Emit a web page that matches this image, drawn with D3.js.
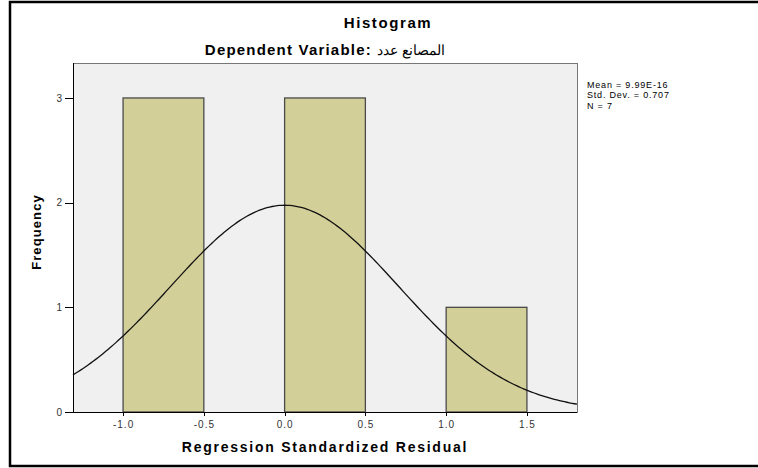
<!DOCTYPE html>
<html lang="en">
<head>
    <meta charset="UTF-8">
    <title>histogram</title>
    <script src="https://cdnjs.cloudflare.com/ajax/libs/d3/7.8.5/d3.min.js"></script>
    <style>
        body { margin: 0; background: #fff; }
        svg { display: block; font-family: "Liberation Sans", Arial, sans-serif; }
        .axis path { display: none; }
        .axis line { stroke: #000; shape-rendering: crispEdges; }
        .axis text { font-size: 10px; fill: #333; letter-spacing: 1px; }
        .title { font-weight: bold; fill: #000; }
        .stats text { font-size: 9px; fill: #000; letter-spacing: 0.8px; }
    </style>
</head>
<body>
    <svg class="chart"></svg>
    <script>
        // bins of the residuals
        const binStarts = [-1.0, -0.5, 0.0, 0.5, 1.0];
        const binWidth = 0.5;
        const counts = [3, 0, 3, 0, 1];

        const xTicks = [-1.0, -0.5, 0.0, 0.5, 1.0, 1.5];
        const yTicks = [0, 1, 2, 3];

        const statLabels = ['Mean = 9.99E-16', 'Std. Dev. = 0.707', 'N = 7'];
        const mean = 9.99e-16, sd = 0.707, n = 7;

        const W = 758, H = 468;
        const plot = {left: 73, right: 577, top: 63, bottom: 412};

        const svg = d3.select('.chart')
            .attr('width', W)
            .attr('height', H);

        // outer frame
        svg.append('rect')
            .attr('x', 10).attr('y', 2)
            .attr('width', W + 10).attr('height', 464)
            .attr('fill', '#fff')
            .attr('stroke', '#000')
            .attr('stroke-width', 2.5);

        const x = d3.scaleLinear()
            .domain([-1.31, 1.81])
            .range([plot.left, plot.right]);

        const y = d3.scaleLinear()
            .domain([0, 3.334])
            .range([plot.bottom, plot.top]);

        // plot background
        svg.append('rect')
            .attr('x', plot.left).attr('y', plot.top)
            .attr('width', plot.right - plot.left)
            .attr('height', plot.bottom - plot.top)
            .attr('fill', '#f0f0f0')
            .attr('stroke', '#777')
            .attr('stroke-width', 1)
            .attr('shape-rendering', 'crispEdges');

        const bins = binStarts.map((s, i) => ({x0: s, x1: s + binWidth, n: counts[i]}))
            .filter(d => d.n > 0);

        svg.append('g').selectAll('rect')
            .data(bins)
            .enter().append('rect')
            .attr('x', d => x(d.x0))
            .attr('y', d => y(d.n))
            .attr('width', d => x(d.x1) - x(d.x0))
            .attr('height', d => y(0) - y(d.n))
            .attr('fill', '#d3cf98')
            .attr('stroke', '#4a4a4a')
            .attr('stroke-width', 1.3);

        // fitted normal curve
        const curve = d3.range(0, 201).map(i => {
            const v = -1.31 + i * (3.12 / 200);
            const z = (v - mean) / sd;
            return [v, n * binWidth / (sd * Math.sqrt(2 * Math.PI)) * Math.exp(-0.5 * z * z)];
        });

        svg.append('path')
            .datum(curve)
            .attr('fill', 'none')
            .attr('stroke', '#111')
            .attr('stroke-width', 1.3)
            .attr('d', d3.line().x(d => x(d[0])).y(d => y(d[1])));

        // axes
        svg.append('g')
            .attr('class', 'x axis')
            .attr('transform', `translate(0, ${plot.bottom})`)
            .call(d3.axisBottom(x).tickValues(xTicks).tickSize(4).tickPadding(5)
                .tickFormat(d => d.toFixed(1)));

        svg.append('g')
            .attr('class', 'y axis')
            .attr('transform', `translate(${plot.left}, 0)`)
            .call(d3.axisLeft(y).tickValues(yTicks).tickSize(8).tickPadding(2)
                .tickFormat(d3.format('d')));

        svg.append('line')
            .attr('x1', plot.left).attr('x2', plot.right)
            .attr('y1', plot.bottom).attr('y2', plot.bottom)
            .attr('stroke', '#000')
            .attr('shape-rendering', 'crispEdges');
        svg.append('line')
            .attr('x1', plot.left).attr('x2', plot.left)
            .attr('y1', plot.top).attr('y2', plot.bottom)
            .attr('stroke', '#000')
            .attr('shape-rendering', 'crispEdges');

        // titles
        svg.append('text')
            .attr('class', 'title')
            .attr('x', 388).attr('y', 28)
            .attr('text-anchor', 'middle')
            .attr('font-size', 15)
            .attr('letter-spacing', 1.6)
            .text('Histogram');

        const sub = svg.append('text')
            .attr('class', 'title')
            .attr('x', 325).attr('y', 55)
            .attr('text-anchor', 'middle')
            .attr('font-size', 15);
        sub.append('tspan')
            .attr('letter-spacing', 1.2)
            .text('Dependent Variable: ');
        sub.append('tspan')
            .attr('font-weight', 'normal')
            .attr('font-size', 14)
            .text('المصانع عدد');

        svg.append('text')
            .attr('class', 'title')
            .attr('x', 325).attr('y', 452)
            .attr('text-anchor', 'middle')
            .attr('font-size', 14)
            .attr('letter-spacing', 1.75)
            .text('Regression Standardized Residual');

        svg.append('text')
            .attr('class', 'title')
            .attr('transform', 'translate(41, 232) rotate(-90)')
            .attr('text-anchor', 'middle')
            .attr('font-size', 13)
            .attr('letter-spacing', 1.1)
            .text('Frequency');

        // stats box
        svg.append('g')
            .attr('class', 'stats')
            .selectAll('text')
            .data(statLabels)
            .enter().append('text')
            .attr('x', 587)
            .attr('y', (d, i) => 88 + i * 10.4)
            .text(d => d);
    </script>
</body>
</html>
